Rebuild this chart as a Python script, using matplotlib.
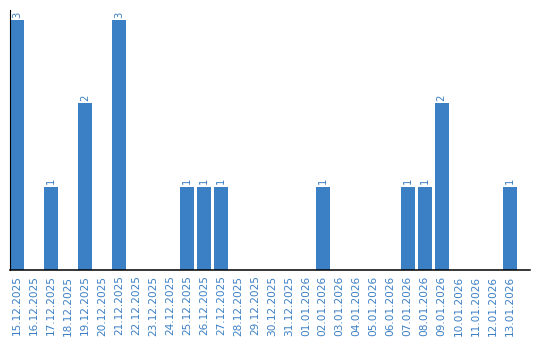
import numpy as np
import matplotlib.pyplot as plt

# daily counts
dates = ["15.12.2025", "16.12.2025", "17.12.2025", "18.12.2025", "19.12.2025",
         "20.12.2025", "21.12.2025", "22.12.2025", "23.12.2025", "24.12.2025",
         "25.12.2025", "26.12.2025", "27.12.2025", "28.12.2025", "29.12.2025",
         "30.12.2025", "31.12.2025", "01.01.2026", "02.01.2026", "03.01.2026",
         "04.01.2026", "05.01.2026", "06.01.2026", "07.01.2026", "08.01.2026",
         "09.01.2026", "10.01.2026", "11.01.2026", "12.01.2026", "13.01.2026"]
counts = [3, 0, 1, 0, 2, 0, 3, 0, 0, 0,
          1, 1, 1, 0, 0, 0, 0, 0, 1, 0,
          0, 0, 0, 1, 1, 2, 0, 0, 0, 1]

blue = "#3b7fc4"

fig = plt.figure(figsize=(5.4, 3.4), dpi=100)
ax = fig.add_axes([10/540, 70/340, 520/540, 260/340])

x = np.arange(len(dates))
ax.bar(x, counts, width=0.82, color=blue)

for i, c in zip(x, counts):
    if c > 0:
        ax.text(i, c + 0.03, str(c), rotation=90, ha="center", va="bottom",
                color=blue, fontsize=7.2)

ax.set_xlim(-0.41, 30.2)
ax.set_ylim(0, 3.12)
ax.set_xticks(x)
ax.set_xticklabels(dates, rotation=90, color=blue, fontsize=7.6)
ax.tick_params(axis="x", length=0, pad=4)
ax.set_yticks([])
ax.spines["top"].set_visible(False)
ax.spines["right"].set_visible(False)
ax.spines["left"].set_color("black")
ax.spines["bottom"].set_linewidth(1.1)

fig.savefig("out.png", dpi=100)
